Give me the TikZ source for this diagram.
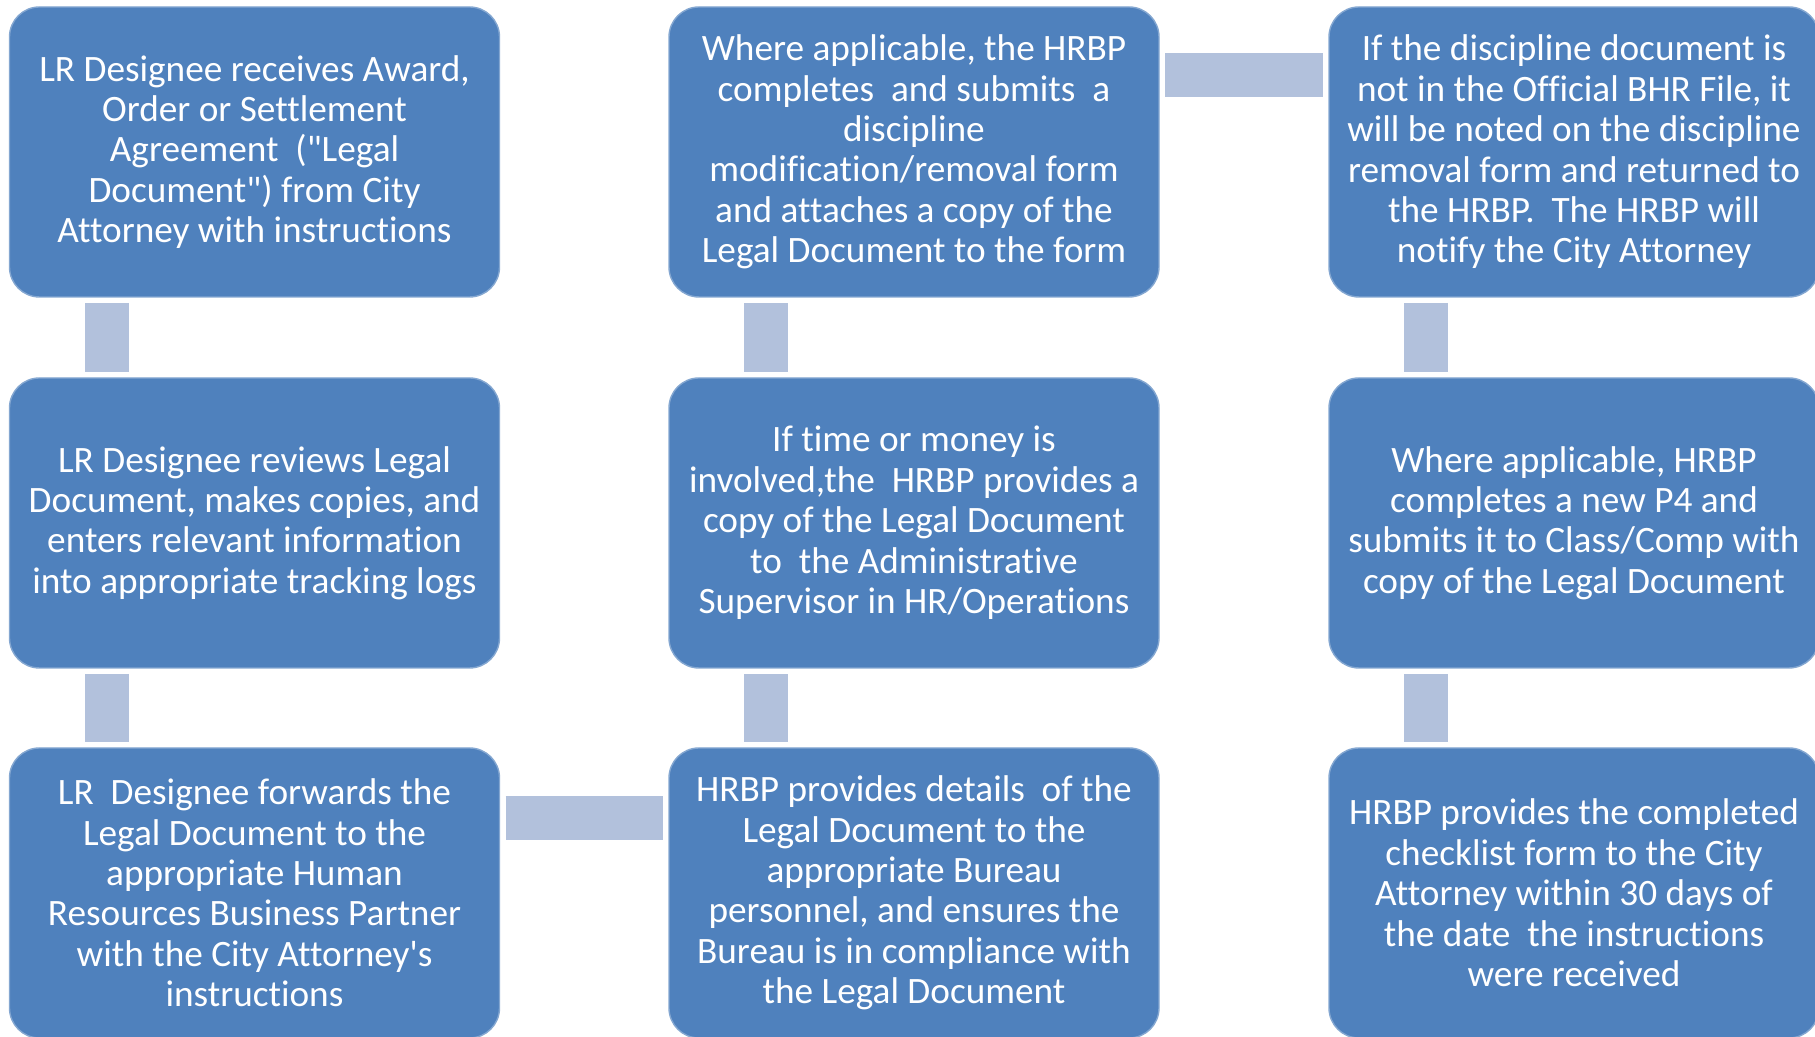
\documentclass[tikz,border=0pt]{standalone}
\usepackage{fontspec}
\setmainfont{Carlito}[Ligatures=CommonOff]
\usetikzlibrary{positioning}
\definecolor{stepblue}{HTML}{4F81BD}
\definecolor{linkblue}{HTML}{B2C1DC}

\begin{document}
\begin{tikzpicture}[
    every node/.style={font=\fontsize{10.6}{11.5}\selectfont},
    stepbox/.style={rectangle, rounded corners=0.3cm, fill=stepblue, draw=stepblue!70!white, line width=0.4pt, text=white, align=center, minimum width=4.9cm, minimum height=2.9cm, inner sep=0pt, outer sep=0pt},
    link/.style={line width=0.44cm, color=linkblue, shorten <=0.06cm, shorten >=0.06cm}
]
\useasboundingbox (0,0) rectangle (18.15,10.37);

% Column 1: LR designee
\node[stepbox] (lr1) at (2.545,8.85) {LR Designee receives Award,\\ Order or Settlement\\ Agreement~ (\textquotedbl Legal\\ Document\textquotedbl) from City\\ Attorney with instructions};
\node[stepbox] (lr2) at (2.545,5.14) {LR Designee reviews Legal\\ Document, makes copies, and\\ enters relevant information\\ into appropriate tracking logs};
\node[stepbox] (lr3) at (2.545,1.44) {LR~ Designee forwards the\\ Legal Document to the\\ appropriate Human\\ Resources Business Partner\\ with the City Attorney\textquotesingle s\\ instructions};

% Column 2: HRBP
\node[stepbox] (hr1) at (9.14,8.85) {Where applicable, the HRBP\\ completes~ and submits~ a\\ discipline\\ modification/removal form\\ and attaches a copy of the\\ Legal Document to the form};
\node[stepbox] (hr2) at (9.14,5.14) {If time or money is\\ involved,the~ HRBP provides a\\ copy of the Legal Document\\ to~ the Administrative\\ Supervisor in HR/Operations};
\node[stepbox] (hr3) at (9.14,1.44) {HRBP provides details~ of the\\ Legal Document to the\\ appropriate Bureau\\ personnel, and ensures the\\ Bureau is in compliance with\\ the Legal Document};

% Column 3: file, P4 and checklist
\node[stepbox] (bf1) at (15.74,8.85) {If the discipline document is\\ not in the Official BHR File, it\\ will be noted on the discipline\\ removal form and returned to\\ the HRBP.~ The HRBP will\\ notify the City Attorney};
\node[stepbox] (bf2) at (15.74,5.14) {Where applicable, HRBP\\ completes a new P4 and\\ submits it to Class/Comp with\\ copy of the Legal Document};
\node[stepbox] (bf3) at (15.74,1.44) {HRBP provides the completed\\ checklist form to the City\\ Attorney within 30 days of\\ the date~ the instructions\\ were received};

% Links
\draw[link] ([xshift=-1.48cm]lr1.south) -- ([xshift=-1.48cm]lr2.north);
\draw[link] ([xshift=-1.48cm]lr2.south) -- ([xshift=-1.48cm]lr3.north);
\draw[link] ([yshift=0.745cm]lr3.east) -- ([yshift=0.745cm]hr3.west);
\draw[link] ([xshift=-1.48cm]hr3.north) -- ([xshift=-1.48cm]hr2.south);
\draw[link] ([xshift=-1.48cm]hr2.north) -- ([xshift=-1.48cm]hr1.south);
\draw[link] ([yshift=0.77cm]hr1.east) -- ([yshift=0.77cm]bf1.west);
\draw[link] ([xshift=-1.48cm]bf1.south) -- ([xshift=-1.48cm]bf2.north);
\draw[link] ([xshift=-1.48cm]bf2.south) -- ([xshift=-1.48cm]bf3.north);
\end{tikzpicture}
\end{document}
